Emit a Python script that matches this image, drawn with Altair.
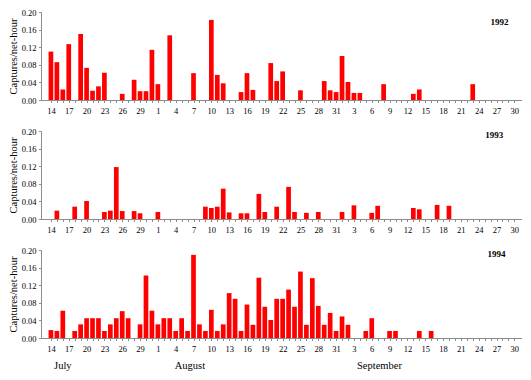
import json
import altair as alt
import pandas as pd

FONT = "Liberation Serif"

# Day index 0 = 14 July; 18 = 1 August; 49 = 1 September; 78 = 30 September
days_1992 = [0, 1, 2, 3, 5, 6, 7, 8, 9, 12, 14, 15, 16, 17, 18, 20, 24, 27, 28, 29,
             32, 33, 34, 37, 38, 39, 42, 46, 47, 48, 49, 50, 51, 52, 56, 61, 62, 71]
vals_1992 = [0.110, 0.086, 0.024, 0.127, 0.150, 0.073, 0.021, 0.031, 0.062, 0.014,
             0.046, 0.020, 0.020, 0.114, 0.036, 0.147, 0.061, 0.182, 0.057, 0.038,
             0.018, 0.061, 0.023, 0.084, 0.043, 0.065, 0.022, 0.043, 0.022, 0.018,
             0.100, 0.041, 0.016, 0.016, 0.036, 0.014, 0.024, 0.036]

days_1993 = [1, 4, 6, 9, 10, 11, 12, 14, 15, 18, 26, 27, 28, 29, 30, 32, 33, 35, 36,
             38, 40, 41, 43, 45, 49, 51, 54, 55, 61, 62, 65, 67]
vals_1993 = [0.019, 0.028, 0.041, 0.016, 0.019, 0.118, 0.018, 0.018, 0.013, 0.016,
             0.028, 0.025, 0.028, 0.069, 0.015, 0.013, 0.013, 0.057, 0.016,
             0.028, 0.073, 0.016, 0.014, 0.016, 0.016, 0.031, 0.014, 0.030, 0.025,
             0.022, 0.032, 0.030]

days_1994 = [0, 1, 2, 4, 5, 6, 7, 8, 9, 10, 11, 12, 13, 15, 16, 17, 18, 19, 20, 21,
             22, 23, 24, 25, 26, 27, 28, 29, 30, 31, 32, 33, 34, 35, 36, 37, 38, 39,
             40, 41, 42, 43, 44, 45, 46, 47, 48, 49, 50, 53, 54, 57, 58, 62, 64]
vals_1994 = [0.018, 0.016, 0.062, 0.016, 0.031, 0.045, 0.045, 0.045, 0.016, 0.031,
             0.045, 0.061, 0.045, 0.031, 0.142, 0.062, 0.031, 0.045, 0.045, 0.016,
             0.045, 0.016, 0.189, 0.031, 0.016, 0.064, 0.016, 0.031, 0.102, 0.089,
             0.016, 0.076, 0.030, 0.137, 0.071, 0.041, 0.089, 0.089, 0.110, 0.071,
             0.151, 0.030, 0.136, 0.073, 0.030, 0.057, 0.016, 0.049, 0.030, 0.016,
             0.045, 0.016, 0.016, 0.016, 0.016]

years = ["1992", "1993", "1994"]
year_label_day = [75.5, 74.6, 75.0]
year_label_rate = [0.177, 0.192, 0.192]

tick_labels = ["14", "17", "20", "23", "26", "29", "1", "4", "7", "10", "13", "16",
               "19", "22", "25", "28", "31", "3", "6", "9", "12", "15", "18", "21",
               "24", "27", "30"]
month_names = ["July", "August", "September"]
month_day = [2.0, 23.4, 55.3]

y_ticks = [0.0, 0.04, 0.08, 0.12, 0.16, 0.20]

W = 481
H = 88

label_expr = ("datum.value % 3 === 0 ? " + json.dumps(tick_labels)
              + "[datum.value / 3] : ''")

x_enc = alt.X(
    "day:Q",
    scale=alt.Scale(domain=[-0.83, 78.45], nice=False, zero=False),
    axis=alt.Axis(values=list(range(79)), tickCount=200, labelExpr=label_expr,
                  labelOverlap=False, labelFlush=False, grid=False, tickSize=2.5,
                  labelPadding=4, title=None, domainColor="#8c8c8c",
                  tickColor="#8c8c8c", labelFont=FONT, labelFontSize=8.5,
                  labelColor="black"),
)
y_enc = alt.Y(
    "rate:Q",
    scale=alt.Scale(domain=[0, 0.2], nice=False),
    axis=alt.Axis(values=y_ticks, tickCount=20, labelOverlap=False, format=".2f",
                  grid=False, tickSize=2.5, labelPadding=2.5,
                  domainColor="#8c8c8c", tickColor="#8c8c8c",
                  labelFont=FONT, labelFontSize=8.5, labelColor="black",
                  title="Captures/net-hour", titleFont=FONT, titleFontSize=10.5,
                  titleFontWeight="normal", titleColor="black", titlePadding=3),
)


def panel(days, vals, i, months=False):
    df = pd.DataFrame({"day": days, "rate": vals})
    bars = alt.Chart(df).mark_bar(color="#ff0000", size=4.7).encode(x=x_enc, y=y_enc)
    ydf = pd.DataFrame({"day": [year_label_day[i]], "rate": [year_label_rate[i]],
                        "t": [years[i]]})
    ytext = alt.Chart(ydf).mark_text(font=FONT, fontSize=9, fontWeight="bold",
                                     color="black").encode(
        x="day:Q", y="rate:Q", text="t:N")
    layers = [bars, ytext]
    if months:
        mdf = pd.DataFrame({"day": month_day, "m": month_names})
        mtext = alt.Chart(mdf).mark_text(font=FONT, fontSize=10.5, color="black").encode(
            x="day:Q", y=alt.value(H + 28), text="m:N")
        layers.append(mtext)
    return alt.layer(*layers).properties(width=W, height=H)


chart = alt.vconcat(
    panel(days_1992, vals_1992, 0),
    panel(days_1993, vals_1993, 1),
    panel(days_1994, vals_1994, 2, months=True),
    spacing=12,
).properties(padding=0, background="white").configure(
    font=FONT
).configure_axis(labelFont=FONT, titleFont=FONT).configure_view(strokeWidth=0)

chart.save("out.html", embed_options={"renderer": "svg", "actions": False})
